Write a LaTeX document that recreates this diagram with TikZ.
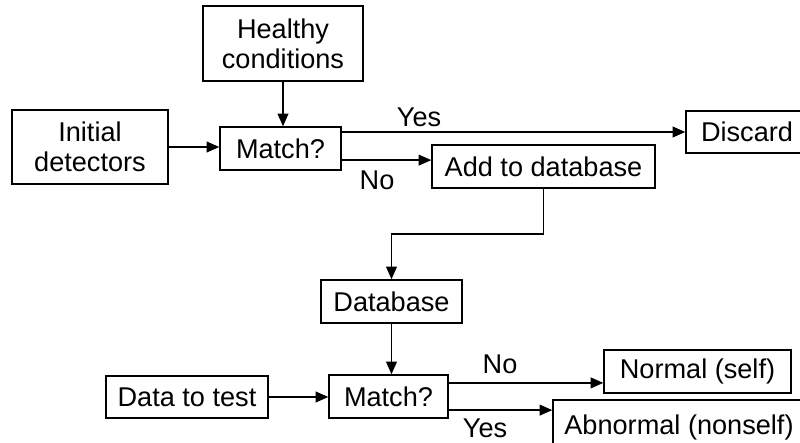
\documentclass[tikz,border=0pt]{standalone}
\usepackage{fontspec}
\setmainfont{Liberation Sans}
\usepackage{tikz}
\usetikzlibrary{arrows.meta,calc,positioning}
\tikzset{
  flowbox/.style={draw=black,line width=0.9pt,align=center,inner sep=0pt,font=\fontsize{19.3}{21.3}\selectfont},
  flowarrow/.style={-{Triangle[length=9pt,width=7.5pt]},line width=1.4pt},
  answer/.style={inner sep=0pt,font=\fontsize{19.3}{21.3}\selectfont}
}
\begin{document}
\begin{tikzpicture}
\useasboundingbox (0,0) rectangle (20,-11.05);
\clip (0,0) rectangle (20,-11.05);
% training stage
\node[flowbox,minimum width=4cm,minimum height=1.875cm] (healthy) at (7.075,-1.0875) {Healthy\\conditions};
\node[flowbox,minimum width=3.9cm,minimum height=1.85cm] (initial) at (2.25,-3.675) {Initial\\detectors};
\node[flowbox,minimum width=3.025cm,minimum height=1.075cm] (match1) at (7.0125,-3.7125) {Match?};
\node[flowbox,minimum width=3.05cm,minimum height=1.05cm] (discard) at (18.675,-3.3) {Discard};
\node[flowbox,minimum width=5.575cm,minimum height=1.075cm] (add) at (13.5875,-4.1625) {Add to database};
\node[flowbox,minimum width=3.525cm,minimum height=1.075cm] (database) at (9.7875,-7.5375) {Database};
% testing stage
\node[flowbox,minimum width=2.975cm,minimum height=1.075cm] (match2) at (9.7125,-9.9125) {Match?};
\node[flowbox,minimum width=4.05cm,minimum height=1.05cm] (data) at (4.675,-9.925) {Data to test};
\node[flowbox,minimum width=4.675cm,minimum height=1.075cm] (normal) at (17.4375,-9.2875) {Normal (self)};
\node[flowbox,minimum width=6.3cm,minimum height=1.35cm] (abnormal) at (16.975,-10.675) {Abnormal (nonself)};
% answers
\node[answer] (yes1) at (10.475,-2.925) {Yes};
\node[answer] (no1) at (9.425,-4.5) {No};
\node[answer] (no2) at (12.5,-9.1) {No};
\node[answer] (yes2) at (12.125,-10.7) {Yes};
% connectors
\draw[flowarrow] (healthy.south) -- (healthy.south |- match1.north);
\draw[flowarrow] (initial.east) -- (initial.east -| match1.west);
\draw[flowarrow] (match1.east |- discard.west) -- (discard.west);
\draw[flowarrow] ([yshift=-0.29cm]match1.east) -- ([yshift=-0.29cm]match1.east -| add.west);
\draw[flowarrow] (add.south) -- ++(0,-1.125) -| (database.north);
\draw[flowarrow] (database.south) -- (database.south |- match2.north);
\draw[flowarrow] (data.east) -- (data.east -| match2.west);
\draw[flowarrow] ([yshift=0.34cm]match2.east) -- ([yshift=0.34cm]match2.east -| normal.west);
\draw[flowarrow] ([yshift=-0.34cm]match2.east) -- ([yshift=-0.34cm]match2.east -| abnormal.west);
\end{tikzpicture}
\end{document}
